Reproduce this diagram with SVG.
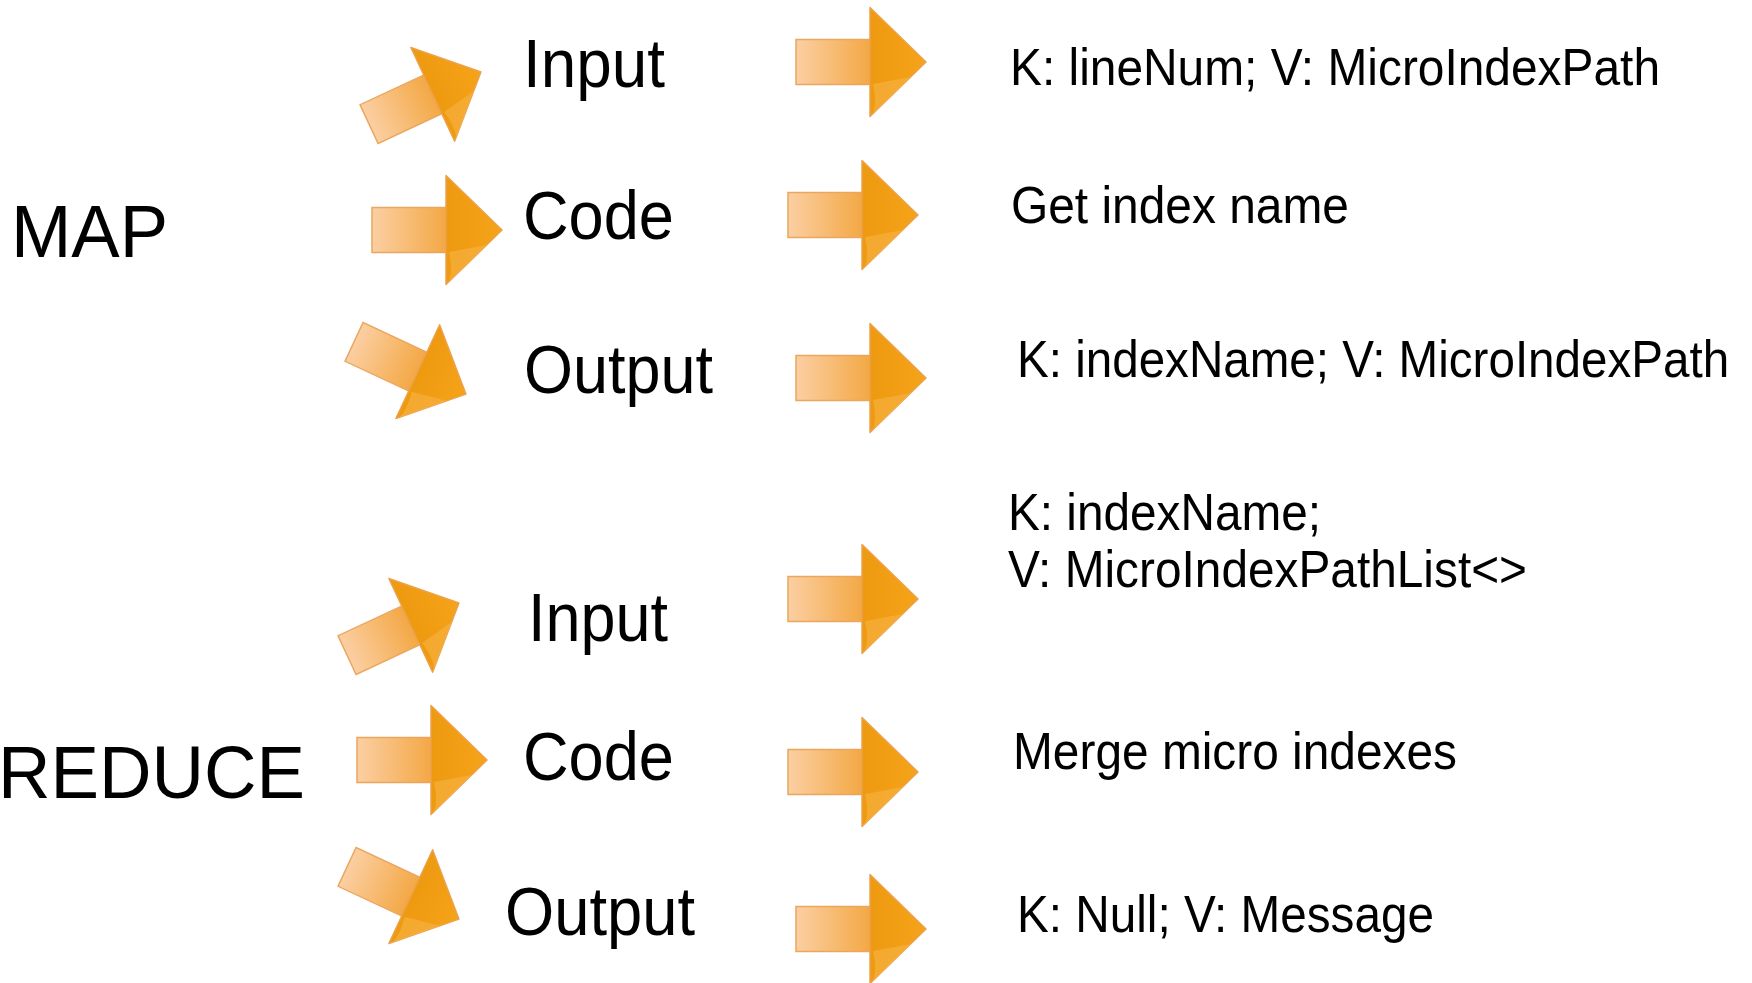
<svg xmlns="http://www.w3.org/2000/svg" xmlns:xlink="http://www.w3.org/1999/xlink" width="1752" height="983" viewBox="0 0 1752 983">
<style>
text{font-family:"Liberation Sans",Arial,sans-serif;fill:#000}
.big{font-size:74px}
.stage{font-size:68px}
.desc{font-size:52px}
</style>
<defs>
<linearGradient id="shaftG" x1="0" y1="0" x2="1" y2="0">
<stop offset="0" stop-color="#fbcfa3"/>
<stop offset="1" stop-color="#f3a640"/>
</linearGradient>
<linearGradient id="headG" x1="0" y1="0" x2="1" y2="0">
<stop offset="0" stop-color="#ee9a10"/>
<stop offset="1" stop-color="#f5a31a"/>
</linearGradient>
<g id="arrow">
<rect x="-65" y="-22.5" width="78" height="45" fill="url(#shaftG)" stroke="#eba65e" stroke-width="1.5"/>
<path d="M9,-54.5 L65,0 L9,54.5 Z" fill="url(#headG)" stroke="#eca24c" stroke-width="1.5" stroke-linejoin="round"/>
<path d="M12,22 Q16,40 12,52 L50,15 Z" fill="#f7b548" opacity="0.55"/>
</g>
</defs>

<g id="connectors">
<use xlink:href="#arrow" transform="translate(425,98) rotate(-25) scale(0.95)"/>
<use xlink:href="#arrow" transform="translate(437,230)"/>
<use xlink:href="#arrow" transform="translate(410,368) rotate(25) scale(0.95)"/>
<use xlink:href="#arrow" transform="translate(403,629) rotate(-25) scale(0.95)"/>
<use xlink:href="#arrow" transform="translate(422,760)"/>
<use xlink:href="#arrow" transform="translate(403,893) rotate(25) scale(0.95)"/>
<use xlink:href="#arrow" transform="translate(861,62)"/>
<use xlink:href="#arrow" transform="translate(853,215)"/>
<use xlink:href="#arrow" transform="translate(861,378)"/>
<use xlink:href="#arrow" transform="translate(853,599)"/>
<use xlink:href="#arrow" transform="translate(853,772)"/>
<use xlink:href="#arrow" transform="translate(861,929)"/>
</g>

<g id="map"><text class="big" x="11" y="257" textLength="157" lengthAdjust="spacingAndGlyphs">MAP</text></g>
<g id="reduce"><text class="big" x="-2" y="798" textLength="307" lengthAdjust="spacingAndGlyphs">REDUCE</text></g>

<g id="map-input"><text class="stage" x="523" y="87" textLength="142" lengthAdjust="spacingAndGlyphs">Input</text></g>
<g id="map-code"><text class="stage" x="523" y="239" textLength="151" lengthAdjust="spacingAndGlyphs">Code</text></g>
<g id="map-output"><text class="stage" x="524" y="393" textLength="189" lengthAdjust="spacingAndGlyphs">Output</text></g>
<g id="reduce-input"><text class="stage" x="528" y="641" textLength="140" lengthAdjust="spacingAndGlyphs">Input</text></g>
<g id="reduce-code"><text class="stage" x="523" y="780" textLength="151" lengthAdjust="spacingAndGlyphs">Code</text></g>
<g id="reduce-output"><text class="stage" x="505" y="935" textLength="190" lengthAdjust="spacingAndGlyphs">Output</text></g>

<g id="map-input-desc"><text class="desc" x="1010" y="85" textLength="650" lengthAdjust="spacingAndGlyphs">K: lineNum; V: MicroIndexPath</text></g>
<g id="map-code-desc"><text class="desc" x="1011" y="223" textLength="338" lengthAdjust="spacingAndGlyphs">Get index name</text></g>
<g id="map-output-desc"><text class="desc" transform="translate(1017,377) scale(0.915,1)" x="0" y="0">K: indexName; V: MicroIndexPath</text></g>
<g id="reduce-input-desc">
<text class="desc" x="1008" y="530" textLength="313" lengthAdjust="spacingAndGlyphs">K: indexName;</text>
<text class="desc" x="1008" y="587" textLength="519" lengthAdjust="spacingAndGlyphs">V: MicroIndexPathList&lt;&gt;</text>
</g>
<g id="reduce-code-desc"><text class="desc" x="1013" y="769" textLength="444" lengthAdjust="spacingAndGlyphs">Merge micro indexes</text></g>
<g id="reduce-output-desc"><text class="desc" x="1017" y="932" textLength="417" lengthAdjust="spacingAndGlyphs">K: Null; V: Message</text></g>
</svg>
